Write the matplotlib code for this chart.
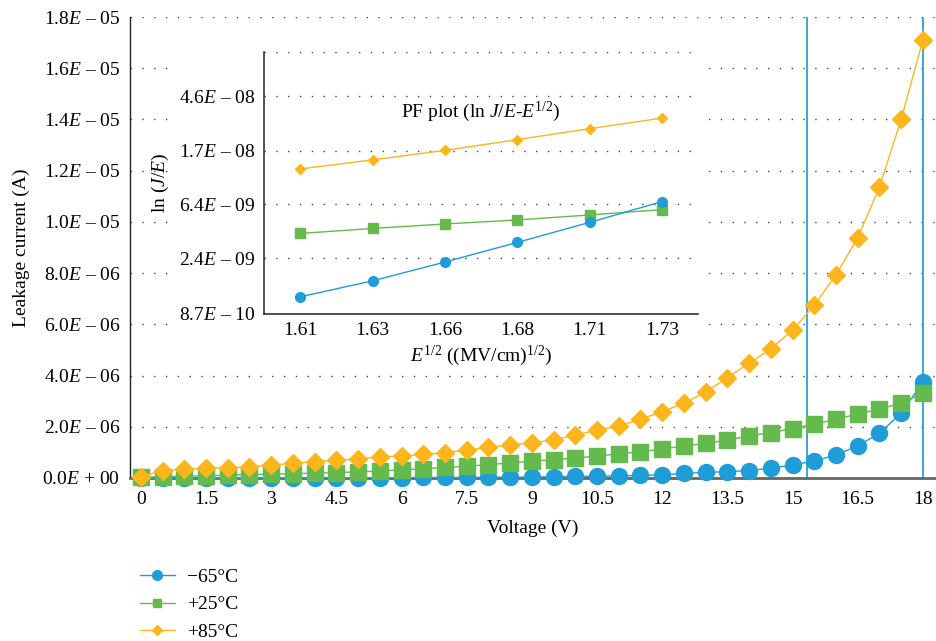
import matplotlib
matplotlib.use('Agg')
import matplotlib.pyplot as plt
from matplotlib.lines import Line2D
from matplotlib.patches import Rectangle
import numpy as np

plt.rcParams['font.family'] = ['Liberation Serif', 'DejaVu Serif']
plt.rcParams['mathtext.fontset'] = 'custom'
plt.rcParams['mathtext.rm'] = 'Liberation Serif'
plt.rcParams['mathtext.it'] = 'Liberation Serif:italic'
plt.rcParams['mathtext.bf'] = 'Liberation Serif:bold'
plt.rcParams['font.size'] = 14

# main chart: leakage current vs voltage (values in 1e-6 A)
voltage = [0, 0.5, 1, 1.5, 2, 2.5, 3, 3.5, 4, 4.5, 5, 5.5, 6, 6.5, 7, 7.5, 8, 8.5,
           9, 9.5, 10, 10.5, 11, 11.5, 12, 12.5, 13, 13.5, 14, 14.5, 15, 15.5, 16,
           16.5, 17, 17.5, 18]
cur_m65 = [0.0, 0.0, 0.0, 0.0, 0.0, 0.0, 0.0, 0.0, 0.01, 0.01, 0.01, 0.01, 0.01,
           0.02, 0.02, 0.02, 0.03, 0.03, 0.04, 0.05, 0.06, 0.07, 0.08, 0.10, 0.12,
           0.18, 0.22, 0.25, 0.29, 0.38, 0.51, 0.66, 0.90, 1.25, 1.75, 2.53, 3.74]
cur_p25 = [0.03, 0.05, 0.07, 0.09, 0.11, 0.13, 0.15, 0.17, 0.19, 0.21, 0.24, 0.27,
           0.32, 0.36, 0.41, 0.46, 0.52, 0.59, 0.65, 0.72, 0.77, 0.86, 0.94, 1.03,
           1.13, 1.25, 1.35, 1.48, 1.64, 1.77, 1.93, 2.10, 2.29, 2.50, 2.69, 2.92, 3.31]
cur_p85 = [0.05, 0.29, 0.34, 0.38, 0.40, 0.43, 0.51, 0.57, 0.64, 0.70, 0.74, 0.83,
           0.86, 0.92, 0.99, 1.09, 1.20, 1.29, 1.38, 1.48, 1.68, 1.87, 2.03, 2.29,
           2.59, 2.92, 3.35, 3.92, 4.48, 5.04, 5.77, 6.74, 7.93, 9.38, 11.35, 14.0, 17.1]
marker_volts = [15.33, 18.0]

x_ticks = [0, 1.5, 3, 4.5, 6, 7.5, 9, 10.5, 12, 13.5, 15, 16.5, 18]
x_ticklabels = ['0', '1.5', '3', '4.5', '6', '7.5', '9', '10.5', '12', '13.5', '15', '16.5', '18']
y_ticks = [0, 2e-6, 4e-6, 6e-6, 8e-6, 1e-5, 1.2e-5, 1.4e-5, 1.6e-5, 1.8e-5]
y_ticklabels = [r'0.0$E$ + 00', r'2.0$E$ – 06', r'4.0$E$ – 06', r'6.0$E$ – 06',
                r'8.0$E$ – 06', r'1.0$E$ – 05', r'1.2$E$ – 05', r'1.4$E$ – 05',
                r'1.6$E$ – 05', r'1.8$E$ – 05']

# inset: Poole-Frenkel plot
pf_labels = ['1.61', '1.63', '1.66', '1.68', '1.71', '1.73']
pf_m65 = [1.19e-9, 1.59e-9, 2.24e-9, 3.20e-9, 4.61e-9, 6.73e-9]
pf_p25 = [3.77e-9, 4.13e-9, 4.48e-9, 4.82e-9, 5.28e-9, 5.81e-9]
pf_p85 = [1.22e-8, 1.44e-8, 1.71e-8, 2.08e-8, 2.54e-8, 3.08e-8]
pf_yticks = [8.7e-10, 2.4e-9, 6.4e-9, 1.7e-8, 4.6e-8]
pf_yticklabels = [r'8.7$E$ – 10', r'2.4$E$ – 09', r'6.4$E$ – 09', r'1.7$E$ – 08', r'4.6$E$ – 08']

labels = ['−65°C', '+25°C', '+85°C']
blue = '#1E9DD8'
green = '#64BA4C'
orange = '#FDB51C'
grid_style = dict(color='#444444', linestyle=(0, (1, 7.5)), linewidth=1.0)

fig = plt.figure(figsize=(9.36, 6.41), dpi=100)
ax = fig.add_axes([130 / 936, 1 - 478 / 641, 805 / 936, 461 / 641])
ax.set_zorder(0)

v = np.array(voltage)
ax.plot(v, np.array(cur_m65) * 1e-6, color=blue, marker='o', ms=11.5, lw=1.0,
        clip_on=False, zorder=3)
ax.plot(v, np.array(cur_p25) * 1e-6, color=green, marker='s', ms=11, lw=1.0,
        clip_on=False, zorder=4)
ax.plot(v, np.array(cur_p85) * 1e-6, color=orange, marker='D', ms=9.5, lw=1.0,
        clip_on=False, zorder=5)
for mv in marker_volts:
    ax.axvline(mv, color='#2A9FD8', lw=1.3, zorder=2)

ax.set_xlim(-0.25, 18.28)
ax.set_ylim(0, 1.8e-5)
ax.set_xticks(x_ticks)
ax.set_xticklabels(x_ticklabels)
ax.set_yticks(y_ticks)
ax.set_yticklabels(y_ticklabels)
ax.tick_params(axis='y', length=0, pad=7)
ax.tick_params(axis='x', length=0, pad=9)
ax.yaxis.grid(True, **grid_style)
ax.set_axisbelow(True)
for s in ['top', 'right']:
    ax.spines[s].set_visible(False)
ax.spines['left'].set_color('#222222')
ax.spines['left'].set_linewidth(1.0)
ax.spines['bottom'].set_color('#666666')
ax.spines['bottom'].set_linewidth(2.0)
ax.set_xlabel('Voltage (V)', labelpad=9)
ax.set_ylabel('Leakage current (A)', labelpad=9)

# white block behind inset and its labels
fig.add_artist(Rectangle((168 / 936, 1 - 374 / 641), 534 / 936, 330 / 641,
                         transform=fig.transFigure, facecolor='white',
                         edgecolor='none', zorder=1))

ins = fig.add_axes([264 / 936, 1 - 314 / 641, 434 / 936, 262 / 641])
ins.set_zorder(2)
xi = np.arange(len(pf_labels))
ins.plot(xi, pf_p25, color=green, marker='s', ms=6.5, lw=1.0, zorder=3)
ins.plot(xi, pf_m65, color=blue, marker='o', ms=7, lw=1.0, zorder=4)
ins.plot(xi, pf_p85, color=orange, marker='D', ms=5, lw=1.0, zorder=5)
ins.set_yscale('log', base=np.e)
ins.set_ylim(8.7e-10, 8.7e-10 * np.exp(4.77))
ins.set_xlim(-0.5, 5.5)
ins.set_xticks(xi)
ins.set_xticklabels(pf_labels)
ins.set_yticks(pf_yticks)
ins.set_yticklabels(pf_yticklabels)
ins.yaxis.set_minor_locator(matplotlib.ticker.NullLocator())
ins.tick_params(length=0, pad=6)
ins.yaxis.grid(True, **grid_style)
ins.axhline(8.7e-10 * np.exp(4.77), **grid_style)
ins.set_axisbelow(True)
for s in ['top', 'right']:
    ins.spines[s].set_visible(False)
for s in ['left', 'bottom']:
    ins.spines[s].set_color('#333333')
    ins.spines[s].set_linewidth(1.2)
ins.set_xlabel(r'$E^{1/2}$ ((MV/cm)$^{1/2}$)', labelpad=3)
ins.set_ylabel(r'ln ($J/E$)', labelpad=6)
ins.text(0.5, 0.77, r'PF plot (ln $J/E$-$E^{1/2}$)', transform=ins.transAxes,
         ha='center', va='center')

handles = [Line2D([], [], color=blue, marker='o', ms=7, lw=1.0),
           Line2D([], [], color=green, marker='s', ms=6, lw=1.0),
           Line2D([], [], color=orange, marker='D', ms=5, lw=1.0)]
fig.legend(handles, labels, loc='upper left', bbox_to_anchor=(122 / 936, 1 - 551 / 641),
           frameon=False, handlelength=1.8, handletextpad=0.65, labelspacing=0.5)

fig.savefig('out.png', dpi=100)
